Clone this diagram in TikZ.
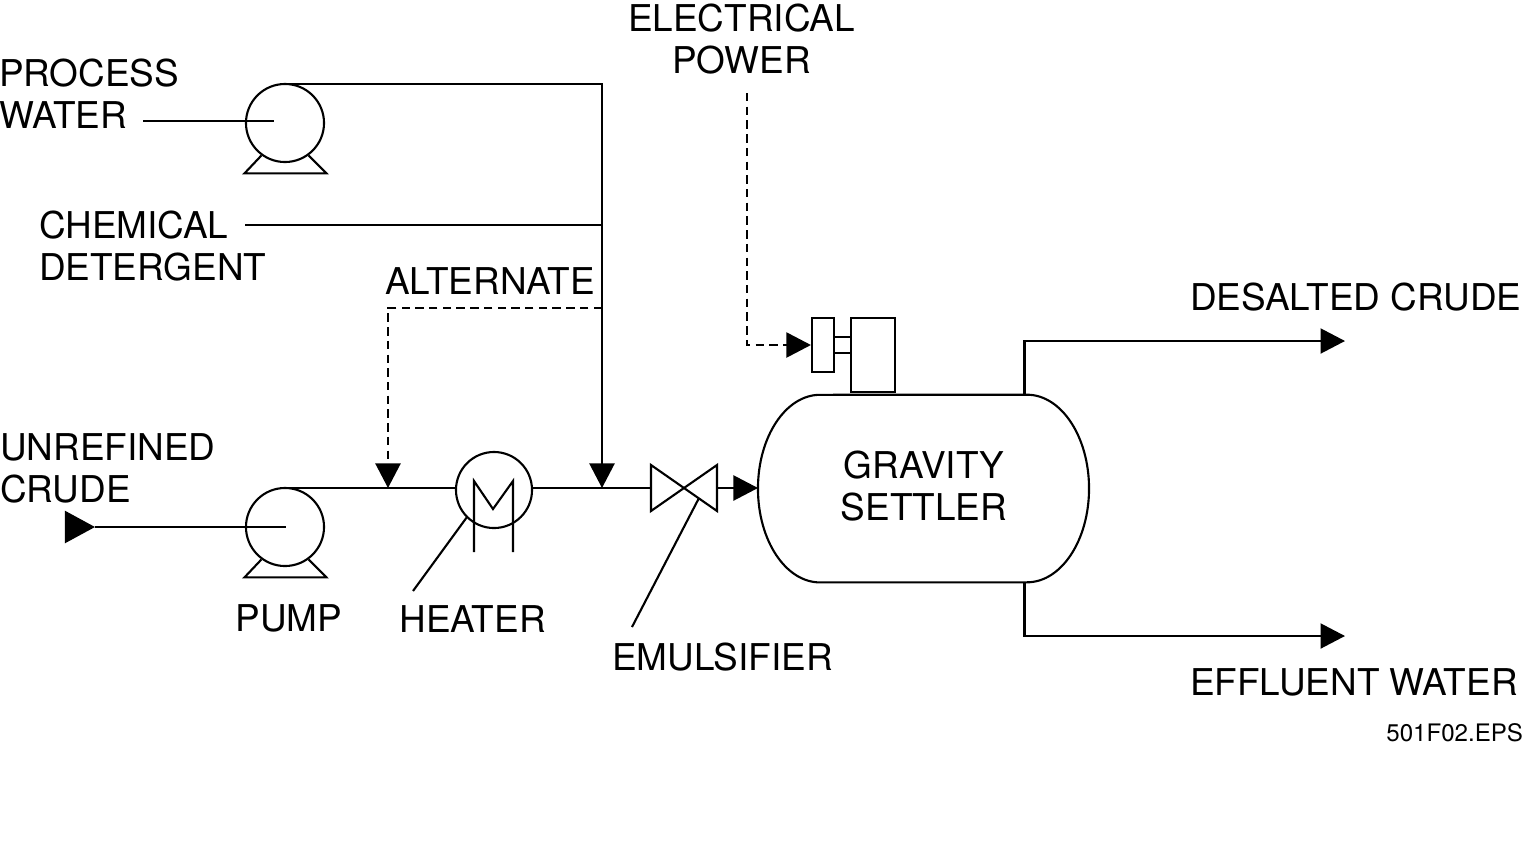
\documentclass[tikz,border=0pt]{standalone}
\usepackage{fontspec}
\setmainfont{TeX Gyre Heros}
\usetikzlibrary{arrows.meta,shapes,positioning}

\begin{document}
\begin{tikzpicture}[x=0.01cm, y=-0.01cm, node distance = 0.91cm, line width=0.6pt]
	\tikzset{PumpStyle/.style = {
			shape=circle,
			draw=black,
			inner sep=0pt,
			minimum size=0.78cm
	}}
	\tikzset{BoxStyle/.style = {
			shape=rectangle,
			draw=black,
			inner sep=0pt
	}}
	\tikzset{LabelStyle/.style = {
			inner sep=0pt,
			align=left,
			font=\fontsize{10.5}{11.95}\selectfont
	}}
	\tikzset{TipStyle/.style = {-{Triangle[length=0.245cm,width=0.25cm]}}}
	\tikzset{BigTipStyle/.style = {-{Triangle[length=0.30cm,width=0.32cm]}}}
	\tikzset{DashStyle/.style = {dash pattern=on 2.4pt off 1.5pt}}
	\useasboundingbox (0,0) rectangle (1524,857);

	\node[PumpStyle] (pump1) at (285,123) {};
	\node[PumpStyle] (pump2) at (285,527) {};
	\node[PumpStyle, minimum size=0.76cm] (heater) at (494,490) {};
	\node[BoxStyle, minimum width=0.22cm, minimum height=0.54cm] (motor1) at (823,345) {};
	\node[BoxStyle, minimum width=0.44cm, minimum height=0.74cm] (motor2) at (873,355) {};

	\node[LabelStyle, anchor=west] (water) at (-2,94) {PROCESS\\WATER};
	\node[LabelStyle, anchor=west] (detergent) at (38,246.5) {CHEMICAL\\DETERGENT};
	\node[LabelStyle, anchor=west] (alternate) at (384,281) {ALTERNATE};
	\node[LabelStyle, anchor=west] (crude) at (-1,468) {UNREFINED\\CRUDE};
	\node[LabelStyle, align=center] (power) at (741.5,39) {ELECTRICAL\\POWER};
	\node[LabelStyle, below of=pump2, xshift=0.04cm] (pumplabel) {PUMP};
	\node[LabelStyle] (heaterlabel) at (472.5,619) {HEATER};
	\node[LabelStyle] (emulsifier) at (722.5,657) {EMULSIFIER};
	\node[LabelStyle, align=center] (settler) at (924,486) {GRAVITY\\SETTLER};
	\node[LabelStyle, anchor=west] (desalted) at (1189,297) {DESALTED CRUDE};
	\node[LabelStyle, anchor=west] (effluent) at (1189,682) {EFFLUENT WATER};
	\node[LabelStyle, anchor=east, font=\fontsize{6.85}{8}\selectfont] (eps) at (1524,733) {501F02.EPS};

	\coordinate (water1) at (143,121);
	\coordinate (water2) at (274,121);
	\coordinate (pump1top) at (285,84);
	\coordinate (corner) at (602,84);
	\coordinate (chem1) at (245,225);
	\coordinate (chem2) at (602,225);
	\coordinate (alt1) at (602,308);
	\coordinate (alt2) at (388,308);
	\coordinate (alt3) at (388,488);
	\coordinate (join) at (602,488);
	\coordinate (crude1) at (65,527);
	\coordinate (crude2) at (95,527);
	\coordinate (crude3) at (286,527);
	\coordinate (pump2top) at (285,488);
	\coordinate (heaterin) at (456,488);
	\coordinate (heaterout) at (532,488);
	\coordinate (valve) at (684,488);
	\coordinate (valvein) at (651,488);
	\coordinate (valveout) at (717,488);
	\coordinate (vesselin) at (758,488);
	\coordinate (power1) at (747,93);
	\coordinate (power2) at (747,345);
	\coordinate (vesseltop) at (1024.5,394.8);
	\coordinate (vesselbot) at (1024.5,582.3);
	\coordinate (desalted1) at (1024.5,341);
	\coordinate (desalted2) at (1345,341);
	\coordinate (effluent1) at (1024.5,636);
	\coordinate (effluent2) at (1345,636);

	\foreach \p in {pump1,pump2}
		\draw (\p.234) -- ++(-17,18) -- ++(82,0) -- (\p.306);

	\draw (820,394.8) arc[start angle=90, end angle=270, x radius=0.62cm, y radius=0.9375cm]
		-- (1027,582.3) arc[start angle=-90, end angle=90, x radius=0.62cm, y radius=0.9375cm] -- cycle;

	\draw (474,552) -- (474,481) -- (493,509) -- (513,481) -- (513,552);
	\draw (valve) -- ++(-33,-23) -- ++(0,46) -- cycle;
	\draw (valve) -- ++(33,-23) -- ++(0,46) -- cycle;
	\draw ([yshift=0.08cm]motor1.east) -- ([yshift=0.08cm]motor1.east -| motor2.west);
	\draw ([yshift=-0.08cm]motor1.east) -- ([yshift=-0.08cm]motor1.east -| motor2.west);

	\draw (water1) -- (water2);
	\draw (chem1) -- (chem2);
	\draw (crude2) -- (crude3);
	\draw (pump2top) -- (heaterin);
	\draw (heaterout) -- (valvein);
	\draw (467,517) -- (413,591);
	\draw (699,498) -- (632,627);
	\draw[BigTipStyle] (crude1) -- (crude2);
	\draw[TipStyle] (pump1top) -- (corner) -- (join);
	\draw[TipStyle] (valveout) -- (vesselin);
	\draw[TipStyle, DashStyle] (alt1) -- (alt2) -- (alt3);
	\draw[TipStyle, DashStyle] (power1) -- (power2) -- (motor1.west);
	\draw[TipStyle] (vesseltop) -- (desalted1) -- (desalted2);
	\draw[TipStyle] (vesselbot) -- (effluent1) -- (effluent2);
\end{tikzpicture}
\end{document}
